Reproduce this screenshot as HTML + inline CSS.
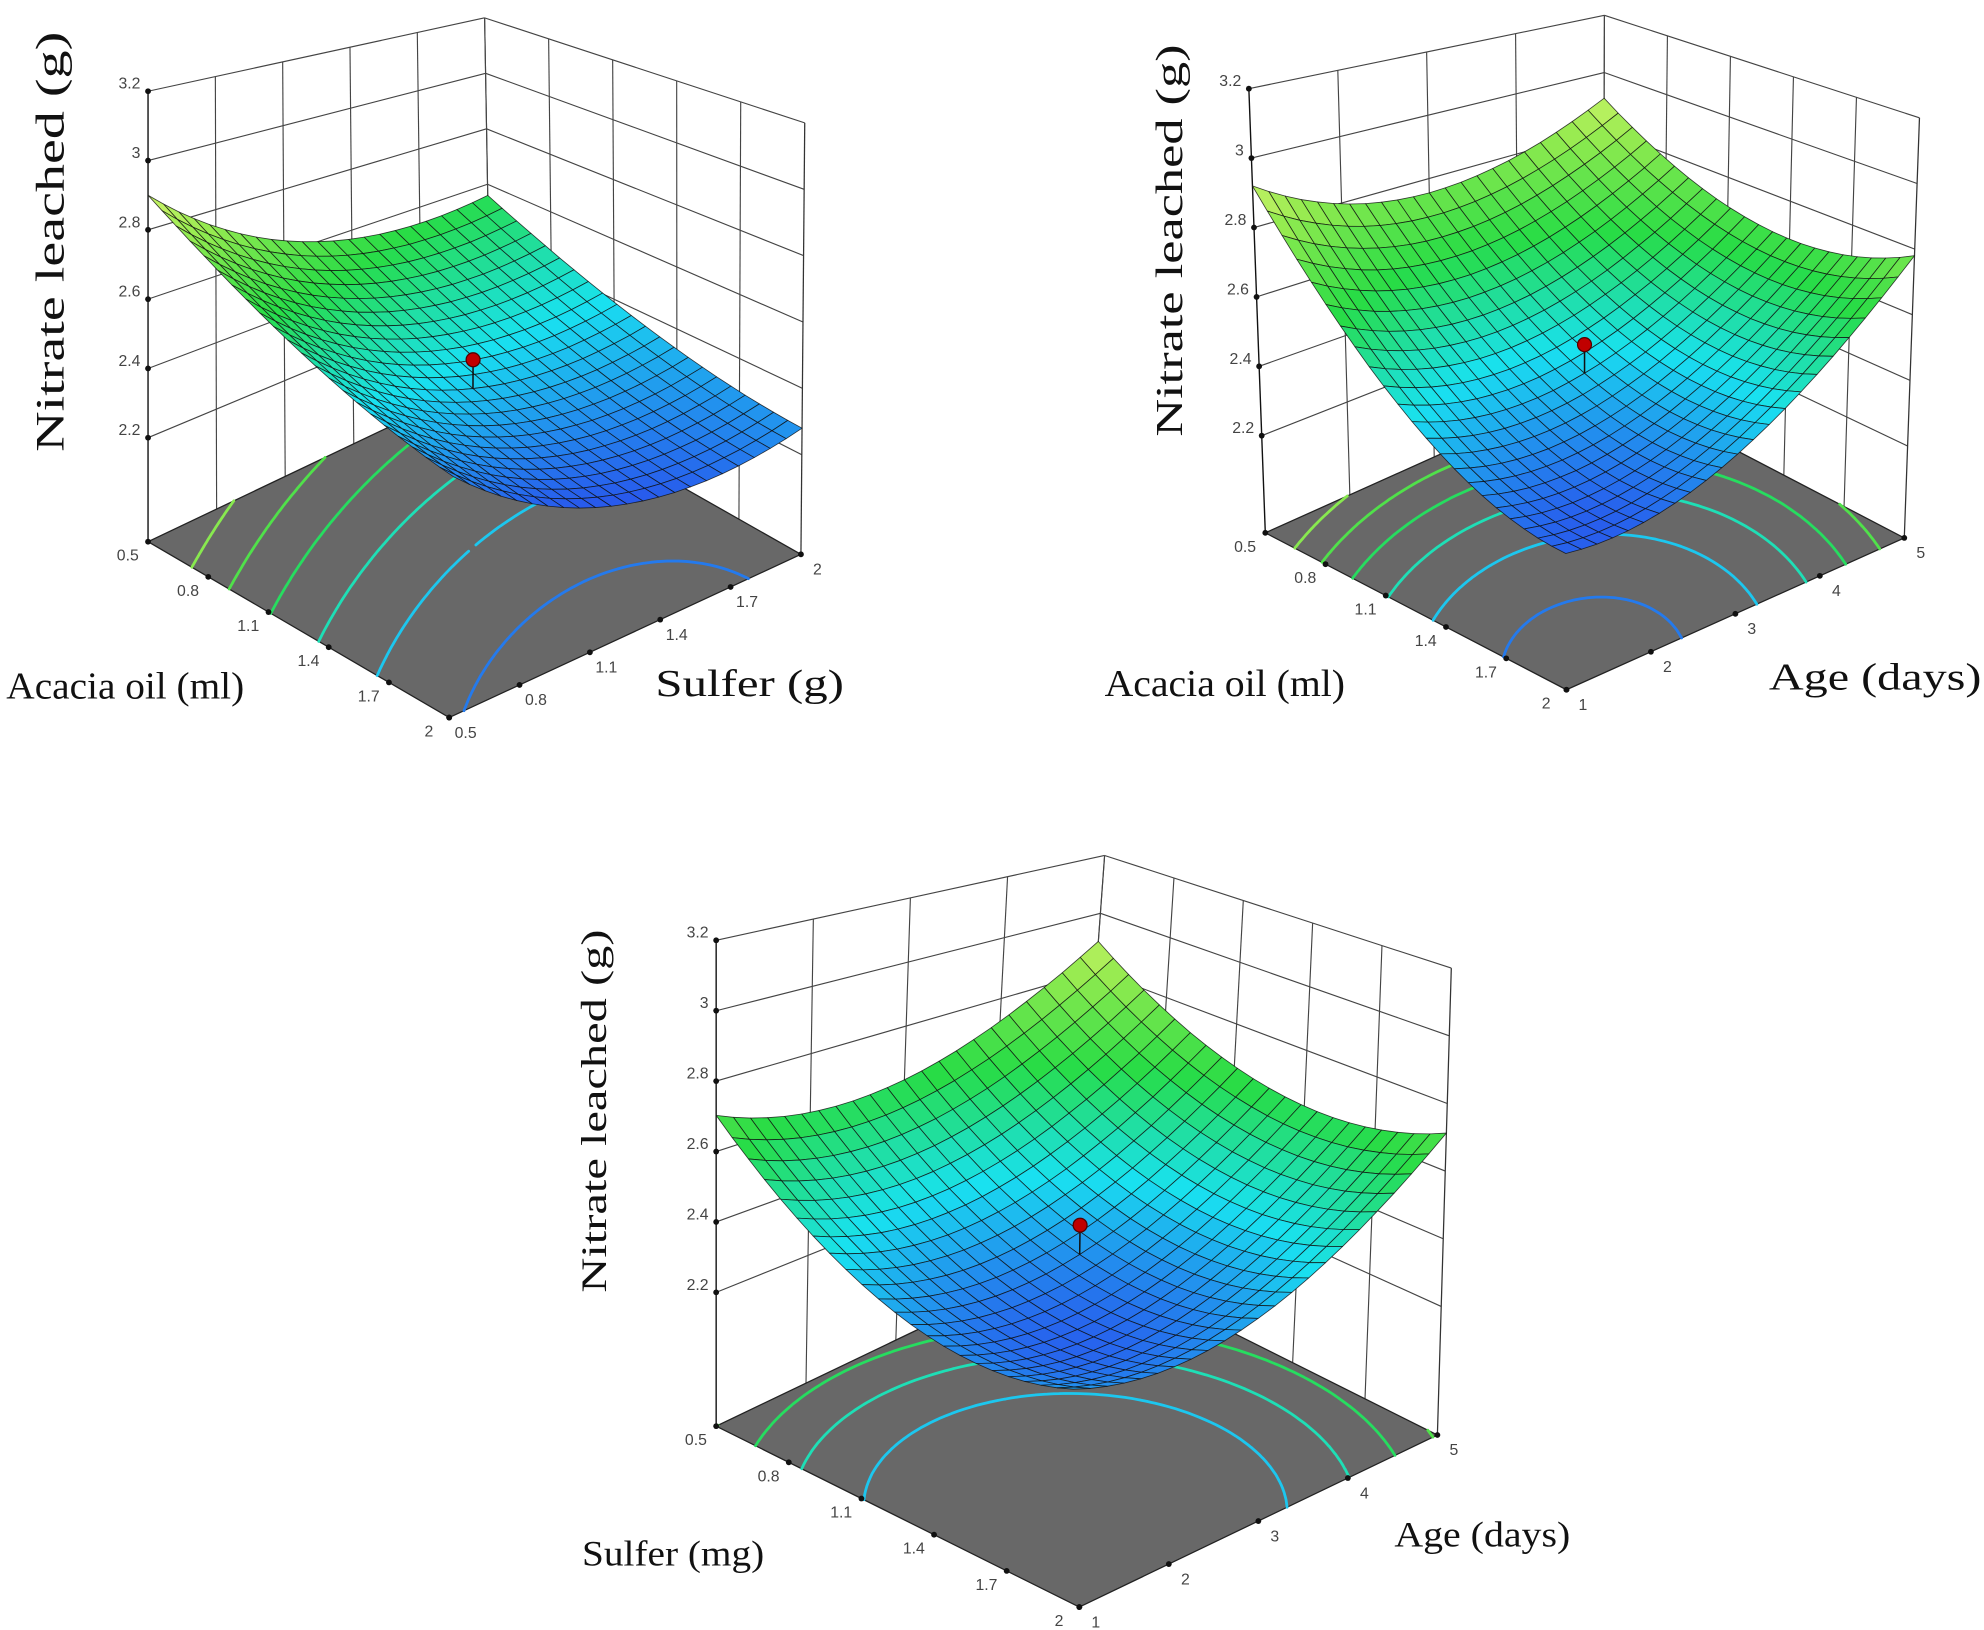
<!DOCTYPE html>
<html><head><meta charset="utf-8"><style>
html,body{margin:0;padding:0;background:#fff;}
svg{display:block;}
</style></head><body>
<svg id="s" xmlns="http://www.w3.org/2000/svg" width="1984" height="1630" viewBox="0 0 1568 1288">
<rect width="1568" height="1288" fill="#fff"/>
<g font-family="Liberation Serif, serif" fill="#111">
<text transform="translate(50,191) rotate(-90)" text-anchor="middle" font-size="32" textLength="332" lengthAdjust="spacingAndGlyphs">Nitrate leached (g)</text>
<text x="5" y="552" font-size="30" textLength="188" lengthAdjust="spacingAndGlyphs">Acacia oil (ml)</text>
<text x="518" y="550" font-size="30" textLength="149" lengthAdjust="spacingAndGlyphs">Sulfer (g)</text>
<text transform="translate(934,190) rotate(-90)" text-anchor="middle" font-size="30" textLength="310" lengthAdjust="spacingAndGlyphs">Nitrate leached (g)</text>
<text x="873" y="550" font-size="30" textLength="190" lengthAdjust="spacingAndGlyphs">Acacia oil (ml)</text>
<text x="1398" y="545" font-size="30" textLength="168" lengthAdjust="spacingAndGlyphs">Age (days)</text>
<text transform="translate(479,878) rotate(-90)" text-anchor="middle" font-size="28" textLength="287" lengthAdjust="spacingAndGlyphs">Nitrate leached (g)</text>
<text x="460" y="1237" font-size="28" textLength="144" lengthAdjust="spacingAndGlyphs">Sulfer (mg)</text>
<text x="1102" y="1222" font-size="28" textLength="139" lengthAdjust="spacingAndGlyphs">Age (days)</text>
</g>
<g id="plots"></g>
</svg>
<script>
(function(){
var NS="http://www.w3.org/2000/svg";
var root=document.getElementById('plots');
function el(tag,attrs,parent,txt){var e=document.createElementNS(NS,tag);for(var k in attrs)e.setAttribute(k,attrs[k]);if(txt!==undefined)e.textContent=txt;(parent||root).appendChild(e);return e;}
var stops=[[0,[45,45,235]],[0.3,[25,225,240]],[0.55,[40,220,70]],[0.8,[150,235,80]],[1,[238,248,120]]];
function cmap(z){var t=(z-2.2)/0.78;if(t<0)t=0;if(t>1)t=1;
 for(var i=1;i<stops.length;i++){if(t<=stops[i][0]){var a=stops[i-1],b=stops[i];var f=(t-a[0])/(b[0]-a[0]);
  var c=[0,1,2].map(function(j){return Math.round(a[1][j]+(b[1][j]-a[1][j])*f);});return 'rgb('+c.join(',')+')';}}
 return 'rgb(238,248,120)';}
function plot(c){
 var g=el('g',{});
 var L=c.L,F=c.F,R=c.R,B=c.B,Lt=c.Lt,Rt=c.Rt,Bt=c.Bt;
 var Ft=[F[0]+(Lt[0]-L[0])+(Rt[0]-R[0])-(Bt[0]-B[0]),F[1]+(Lt[1]-L[1])+(Rt[1]-R[1])-(Bt[1]-B[1])];
 function bil(a,b,d,e,u,v){return [a[0]*(1-u)*(1-v)+b[0]*u*(1-v)+d[0]*(1-u)*v+e[0]*u*v,a[1]*(1-u)*(1-v)+b[1]*u*(1-v)+d[1]*(1-u)*v+e[1]*u*v];}
 function P(u,v,z){var w=(z-c.zmin)/(3.2-c.zmin);var p=bil(L,F,B,R,u,v),q=bil(Lt,Ft,Bt,Rt,u,v);return [p[0]+(q[0]-p[0])*w,p[1]+(q[1]-p[1])*w];}
 function poly(b,u,v){var x=2*u-1,y=2*v-1;return b[0]+b[1]*x+b[2]*y+b[3]*x*x+b[4]*y*y+b[5]*x*y;}
 function f(u,v){return poly(c.b,u,v);}
 var cb=c.cb||c.b;
 function fc(u,v){return poly(cb,u,v);}
 function ln(a,b,st,sw){el('line',{x1:a[0].toFixed(1),y1:a[1].toFixed(1),x2:b[0].toFixed(1),y2:b[1].toFixed(1),stroke:st,'stroke-width':sw},g);}
 var zt=[2.2,2.4,2.6,2.8,3.0,3.2];
 zt.forEach(function(z){ln(P(0,0,z),P(0,1,z),'#444',0.9);ln(P(0,1,z),P(1,1,z),'#444',0.9);});
 var n2=c.ax2.length-1,n1=c.ax1.length-1;
 for(var i=1;i<=n2;i++){var v=i/n2;ln(P(0,v,c.zmin),P(0,v,3.2),'#444',0.9);}
 for(var i=0;i<n1;i++){var u=i/n1;ln(P(u,1,c.zmin),P(u,1,3.2),'#444',0.9);}
 ln(P(0,0,c.zmin),P(0,0,3.2),'#111',1.1);
 ln(P(1,1,c.zmin),P(1,1,3.2),'#333',1);
 el('polygon',{points:[L,F,R,B].map(function(p){return p.join(',');}).join(' '),fill:'#686868',stroke:'#222','stroke-width':1},g);
 var M=70,vals=[];
 for(var i=0;i<=M;i++){vals[i]=[];for(var j=0;j<=M;j++)vals[i][j]=fc(i/M,j/M);}
 c.lv.forEach(function(lv){
  var d='';
  for(var i=0;i<M;i++)for(var j=0;j<M;j++){
   var a=vals[i][j],b=vals[i+1][j],cc=vals[i+1][j+1],dd=vals[i][j+1];var pts=[];
   function cr(v1,v2,u1,w1,u2,w2){if((v1-lv)*(v2-lv)<0){var t=(lv-v1)/(v2-v1);pts.push([u1+(u2-u1)*t,w1+(w2-w1)*t]);}}
   cr(a,b,i,j,i+1,j);cr(b,cc,i+1,j,i+1,j+1);cr(cc,dd,i+1,j+1,i,j+1);cr(dd,a,i,j+1,i,j);
   for(var k=0;k+1<pts.length;k+=2){var p1=P(pts[k][0]/M,pts[k][1]/M,c.zmin),p2=P(pts[k+1][0]/M,pts[k+1][1]/M,c.zmin);
    d+='M'+p1[0].toFixed(1)+' '+p1[1].toFixed(1)+'L'+p2[0].toFixed(1)+' '+p2[1].toFixed(1);}
  }
  if(d)el('path',{d:d,stroke:cmap(lv),'stroke-width':2.2,fill:'none','stroke-linecap':'round'},g);
 });
 var tg=el('g',{'font-family':'Liberation Sans, sans-serif','font-size':'12.5',fill:'#444'},g);
 zt.forEach(function(z){var p=P(0,0,z);el('circle',{cx:p[0],cy:p[1],r:2.3,fill:'#111'},g);
   el('text',{x:(p[0]-6).toFixed(1),y:(p[1]-2).toFixed(1),'text-anchor':'end'},tg,String(z===3?'3':z.toFixed(1)));});
 c.ax1.forEach(function(t,i){var p=P(i/n1,0,c.zmin);el('circle',{cx:p[0],cy:p[1],r:2.3,fill:'#111'},g);
   el('text',{x:(p[0]-16).toFixed(1),y:(p[1]+15).toFixed(1),'text-anchor':'middle'},tg,t);});
 c.ax2.forEach(function(t,i){var p=P(1,i/n2,c.zmin);el('circle',{cx:p[0],cy:p[1],r:2.3,fill:'#111'},g);
   el('text',{x:(p[0]+13).toFixed(1),y:(p[1]+16).toFixed(1),'text-anchor':'middle'},tg,t);});
 var N=22,q=[];
 for(var i=0;i<N;i++)for(var j=0;j<N;j++){q.push([i,j,(j-i)]);}
 q.sort(function(a,b){return b[2]-a[2];});
 var sg=el('g',{stroke:'rgba(15,15,15,0.8)','stroke-width':'0.65','stroke-linejoin':'round'},g);
 q.forEach(function(o){var i=o[0],j=o[1];var cs=[[i,j],[i+1,j],[i+1,j+1],[i,j+1]];var zs=0;
  var pts=cs.map(function(k){var u=k[0]/N,v=k[1]/N,z=f(u,v);zs+=fc(u,v);var p=P(u,v,z);return p[0].toFixed(1)+','+p[1].toFixed(1);});
  el('polygon',{points:pts.join(' '),fill:cmap(zs/4)},sg);});
 var zc=f(0.5,0.5);var a=P(0.5,0.5,zc),b=P(0.5,0.5,zc+0.085);
 ln(a,b,'#111',1.2);
 el('circle',{cx:b[0],cy:b[1],r:5.5,fill:'#c00000',stroke:'#500','stroke-width':1},g);
}
var t1=['0.5','0.8','1.1','1.4','1.7','2'],t2=['1','2','3','4','5'];
plot({L:[117,428],F:[355,567],R:[633,438],B:[388,299],Lt:[117,72],Rt:[636,97],Bt:[383,14],zmin:1.9,
 b:[2.37,-0.17,-0.14,0.06,0.13,0.03],
 cb:[2.40,-0.225,-0.07,0.08,0.07,0.085],lv:[2.3,2.4,2.5,2.6,2.7,2.8],ax1:t1,ax2:t1});
plot({L:[1000,421],F:[1238,545],R:[1505,425],B:[1267,301],Lt:[987,70],Rt:[1517,93],Bt:[1268,12],zmin:1.92,
 b:[2.40,-0.195,0.125,0.16,0.16,0.13],lv:[2.3,2.4,2.5,2.6,2.7,2.8],ax1:t1,ax2:t2});
plot({L:[566,1127],F:[853,1270],R:[1136,1134],B:[850,991],Lt:[566,743],Rt:[1147,765],Bt:[873,676],zmin:1.82,
 b:[2.33,-0.1325,0.1375,0.17,0.17,0.0375],lv:[2.4,2.5,2.6,2.7],ax1:t1,ax2:t2});
})();
</script>
</body></html>
